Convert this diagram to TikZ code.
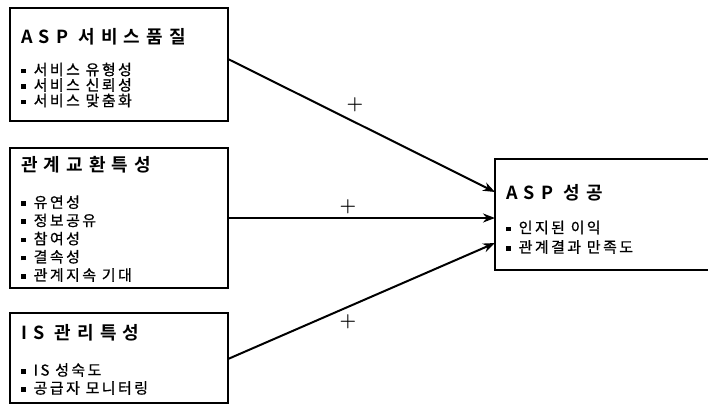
\documentclass[tikz,border=0pt]{standalone}
\usepackage{fontspec}
\usepackage{tikz}
\usetikzlibrary{arrows.meta}
\newfontfamily\krfont[LetterSpace=16,FakeBold=0.7]{Noto Sans CJK KR}
\newfontfamily\krbold[LetterSpace=34]{Noto Sans CJK KR Bold}

\tikzset{
  frame/.style={draw, line width=1.5pt, rectangle, inner sep=0pt},
  head/.style={anchor=west, inner sep=0pt, font=\krbold\fontsize{18}{18}\selectfont},
  item/.style={anchor=west, inner sep=0pt, font=\krfont\fontsize{15}{15}\selectfont},
  link/.style={line width=2pt, -{Stealth[length=12pt,width=9pt]}},
  sign/.style={inner sep=0pt, font=\bfseries\fontsize{19}{19}\selectfont}
}
\newcommand{\bul}{\rule[0.25ex]{4.5pt}{4.5pt}\hspace{8pt}}

\begin{document}
\begin{tikzpicture}[x=1pt,y=-1pt]
\useasboundingbox (0,0) rectangle (708,407);
% boxes
\node[frame, minimum width=218pt, minimum height=113pt] (qual) at (119,64.5) {};
\node[frame, minimum width=218pt, minimum height=140pt] (rel) at (119,218) {};
\node[frame, minimum width=218pt, minimum height=90pt] (mgmt) at (119,358) {};
\node[frame, minimum width=230pt, minimum height=111pt] (succ) at (610,214.5) {};
% texts
\node[head] (qualh) at (21,37) {ASP 서비스품질};
\foreach \t [count=\i] in {서비스 유형성,서비스 신뢰성,서비스 맞춤화}
  \node[item] (quali\i) at (21,54+15.5*\i) {\bul\t};
\node[head] (relh) at (21,165) {관계교환특성};
\foreach \t [count=\i] in {유연성,정보공유,참여성,결속성,관계지속 기대}
  \node[item] (reli\i) at (21,184+18.2*\i) {\bul\t};
\node[head] (mgmth) at (21,333) {IS 관리특성};
\foreach \t [count=\i] in {IS 성숙도,공급자 모니터링}
  \node[item] (mgmti\i) at (21,352+18*\i) {\bul\t};
\node[head] (succh) at (506,193) {ASP 성공};
\foreach \t [count=\i] in {인지된 이익,관계결과 만족도}
  \node[item] (succi\i) at (506,208+19.5*\i) {\bul\t};
% connectors
\coordinate (q1) at (228,59);
\coordinate (r1) at (228,218);
\coordinate (m1) at (228,359);
\coordinate (t1) at (495,192);
\coordinate (t2) at (495,218);
\coordinate (t3) at (495,243);
\draw[link] (q1) -- (t1);
\draw[link] (r1) -- (t2);
\draw[link] (m1) -- (t3);
\node[sign] (p1) at (355,105) {+};
\node[sign] (p2) at (348,207) {+};
\node[sign] (p3) at (348,322) {+};
\end{tikzpicture}
\end{document}
